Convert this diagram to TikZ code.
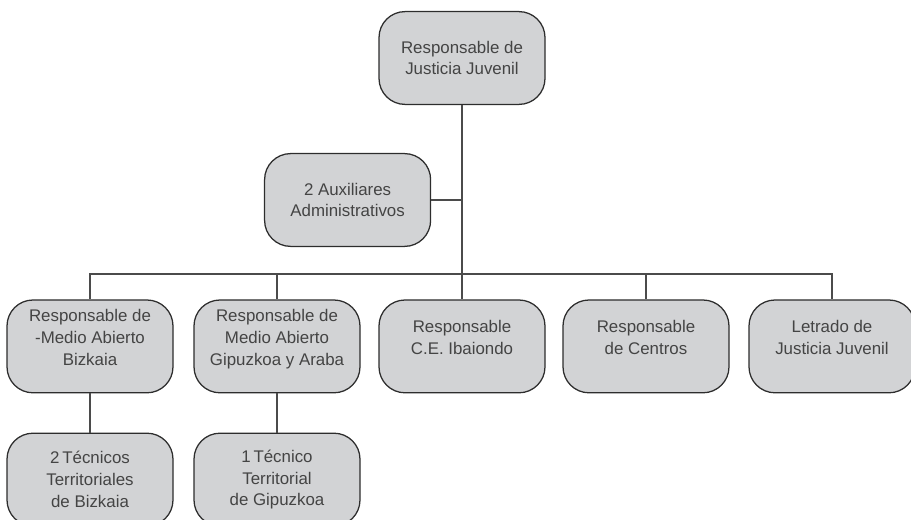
\documentclass[tikz,border=0pt]{standalone}
\usepackage{fontspec}
\setmainfont{Liberation Sans}
\definecolor{boxfill}{RGB}{210,211,213}
\definecolor{boxline}{RGB}{45,45,45}
\definecolor{boxtext}{RGB}{68,68,68}
\definecolor{linkgray}{RGB}{75,75,75}
\newcommand{\lift}{\\[-3pt]\mbox{}}
\begin{document}
\begin{tikzpicture}[
  box/.style={draw=boxline, line width=0.9pt, rounded corners=0.65cm, fill=boxfill, text=boxtext, align=center, minimum width=4.15cm, minimum height=2.32cm, inner sep=2pt, font=\fontsize{12}{15.5}\selectfont},
  link/.style={draw=linkgray, line width=1pt}
]
\clip (0,0) rectangle (22.775,-13);
\node[box] (jefe) at (11.55,-1.45) {Responsable de\\Justicia Juvenil};
\node[box] (aux) at (8.69,-5.0) {2 Auxiliares\\Administrativos};
\node[box] (bizkaia) at (2.25,-8.66) {Responsable de\\-Medio Abierto\\Bizkaia\lift};
\node[box] (gipuzkoa) at (6.925,-8.66) {Responsable de\\Medio Abierto\\Gipuzkoa y Araba\lift};
\node[box] (ibaiondo) at (11.55,-8.66) {Responsable\\C.E. Ibaiondo\lift};
\node[box] (centros) at (16.15,-8.66) {Responsable\\de Centros\lift};
\node[box] (letrado) at (20.8,-8.66) {Letrado de\\Justicia Juvenil\lift};
\node[box] (tecbizkaia) at (2.25,-11.99) {2\,Técnicos\\Territoriales\\de Bizkaia};
\node[box] (tecgipuzkoa) at (6.925,-11.99) {1\,Técnico\\Territorial\\de Gipuzkoa};
\coordinate (bus) at (11.55,-6.85);
\draw[link] (jefe) -- (ibaiondo);
\draw[link] (aux.east) -- (aux.east -| jefe.south);
\draw[link] (bizkaia.north) |- (bus) -| (letrado.north);
\draw[link] (gipuzkoa.north) -- (gipuzkoa.north |- bus);
\draw[link] (centros.north) -- (centros.north |- bus);
\draw[link] (bizkaia) -- (tecbizkaia);
\draw[link] (gipuzkoa) -- (tecgipuzkoa);
\end{tikzpicture}
\end{document}
